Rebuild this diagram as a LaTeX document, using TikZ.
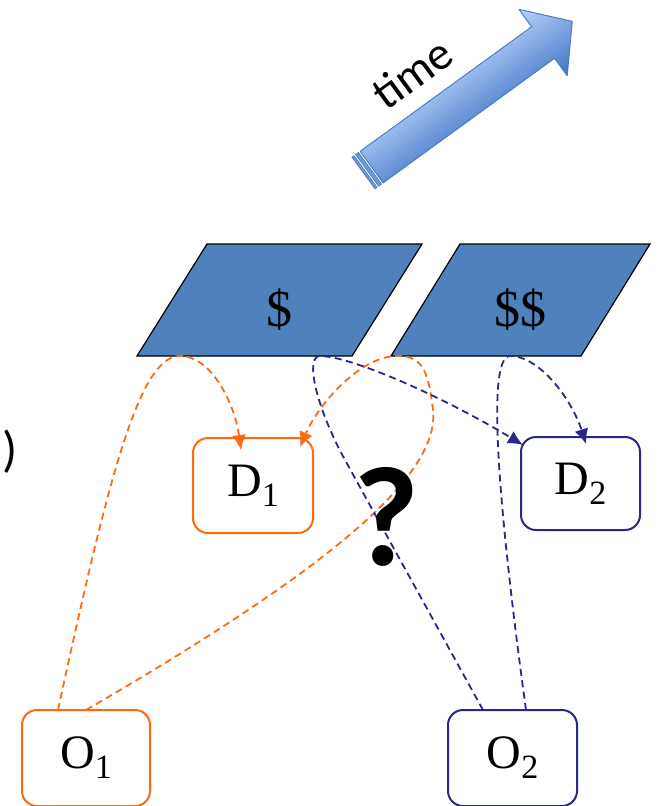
\documentclass[tikz,border=0pt]{standalone}
\usepackage{fontspec}
\setmainfont{Liberation Serif}
\newfontfamily\calib{Carlito}
\usetikzlibrary{arrows.meta}
\definecolor{orn}{HTML}{FF6A10}
\definecolor{nvy}{HTML}{27278C}
\definecolor{parfill}{HTML}{4F81BD}
\definecolor{arrlight}{RGB}{182,212,251}
\definecolor{arrdark}{RGB}{66,116,198}
\definecolor{arrborder}{RGB}{74,126,190}
\newcommand\mysub[1]{\raisebox{-10pt}{\fontsize{34}{34}\selectfont #1}}
\tikzset{
  obox/.style={draw, rounded corners=15pt, line width=2pt, outer sep=0pt, inner sep=0pt,
    minimum width=120pt, minimum height=95pt, font=\fontsize{48}{48}\selectfont},
  conn/.style={dash pattern=on 7pt off 4.5pt, line width=1.8pt},
  arr/.style={-{Latex[length=15pt,width=14pt]}},
  par/.style={fill=parfill, draw=black, line width=1.2pt},
  dollar/.style={font=\fontsize{52}{52}\selectfont, inner sep=0pt}
}
\begin{document}
\begin{tikzpicture}[x=1pt,y=-1pt]
\useasboundingbox (0,0) rectangle (663,806);

% time arrow
\begin{scope}[shift={(363.5,173)},rotate=36]
  \begin{scope}
    \clip (10,-19.5) -- (222,-19.5) -- (222,-41) -- (258,0) -- (222,41) -- (222,19.5) -- (10,19.5) -- cycle;
    \foreach \i in {0,...,40} {
      \pgfmathsetmacro\pc{100-2.5*\i}
      \fill[arrlight!\pc!arrdark] (0,-41+2*\i) rectangle (260,-41+2*\i+2.2);
    }
  \end{scope}
  \draw[arrborder, line width=1pt, line join=round] (10,-19.5) -- (222,-19.5) -- (222,-41) -- (258,0) -- (222,41) -- (222,19.5) -- (10,19.5) -- cycle;
  \filldraw[fill=arrlight!40!arrdark, draw=arrborder, line width=0.8pt] (0,-19.5) rectangle (2.5,19.5);
  \filldraw[fill=arrlight!40!arrdark, draw=arrborder, line width=0.8pt] (4.5,-19.5) rectangle (8,19.5);
\end{scope}
\node[font=\calib\fontsize{47}{47}\selectfont, rotate=36] (time) at (412,73) {time};

% left clipped bracket
\node[font=\calib\fontsize{50}{50}\selectfont, inner sep=0pt] (br) at (10,452) {)};

% parallelograms
\filldraw[par] (207,244) -- (422,244) -- (352,356) -- (137,356) -- cycle;
\filldraw[par] (460,244) -- (650,244) -- (581,356) -- (391,356) -- cycle;
\node[dollar] (p1) at (279,310) {\$};
\node[dollar] (p2) at (520,310) {\$\$};
\coordinate (p1l) at (180,356);
\coordinate (p1r) at (320,356);
\coordinate (p2l) at (397,356);
\coordinate (p2r) at (510,356);

% boxes
\node[obox, draw=orn] (d1) at (253,485.5) {D\mysub{1}};
\node[obox, draw=nvy, minimum width=119pt, minimum height=93pt] (d2) at (580.5,483.5) {D\mysub{2}};
\node[obox, draw=orn, minimum width=128pt, minimum height=96pt] (o1) at (86,758) {O\mysub{1}};
\node[obox, draw=nvy, minimum width=129pt, minimum height=96pt] (o2) at (512.5,758) {O\mysub{2}};

% orange connectors
\draw[conn, orn, arr] ([shift={(36,0)}]o1.north west) .. controls (110,470) and (140,356) .. (p1l)
  .. controls (212,356) and (235,405) .. ([shift={(48,12)}]d1.north west);
\draw[conn, orn, arr] ([shift={(64,0)}]o1.north west) .. controls (310,580) and (441,480) .. (433,410)
  .. controls (428,366) and (420,356) .. (p2l)
  .. controls (360,356) and (318,405) .. ([shift={(107,9)}]d1.north west);

% navy connectors
\draw[conn, nvy, arr] ([shift={(35,0)}]o2.north west) -- (345,460)
  .. controls (315,405) and (305,356) .. (p1r)
  .. controls (350,356) and (440,395) .. ([shift={(2,8)}]d2.north west);
\draw[conn, nvy, arr] ([shift={(78,0)}]o2.north west) .. controls (500,520) and (485,356) .. (p2r)
  .. controls (540,356) and (572,400) .. ([shift={(65,7)}]d2.north west);

% question mark
\node[font=\calib\bfseries\fontsize{142}{142}\selectfont, inner sep=0pt] (q) at (386,517) {?};
\end{tikzpicture}
\end{document}
